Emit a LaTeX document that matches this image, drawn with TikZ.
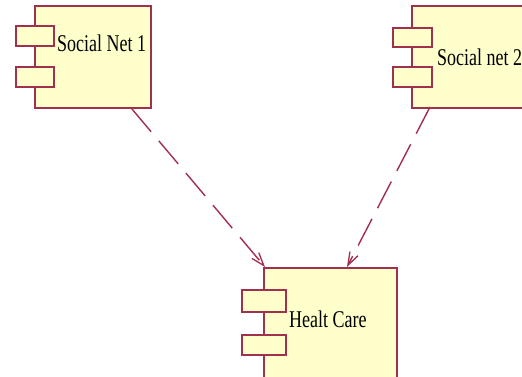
\documentclass[tikz,border=0pt]{standalone}
\usepackage{fontspec}
\usepackage{graphicx}
\setmainfont{Liberation Serif}
\usetikzlibrary{arrows.meta}
\definecolor{umlred}{RGB}{160,48,78}
\definecolor{umlfill}{RGB}{255,255,204}
\tikzset{
  compbody/.style={draw=umlred, fill=umlfill, line width=1.8pt, rectangle, inner sep=0pt, anchor=north west},
  comptab/.style={draw=umlred, fill=umlfill, line width=1.6pt, rectangle, inner sep=0pt, anchor=north west},
  complabel/.style={anchor=base west, inner sep=0pt, font=\fontsize{24}{24}\selectfont},
  dep/.style={draw=umlred, line width=1.4pt, dash pattern=on 30pt off 12pt, -{Straight Barb[length=13pt, width=9pt, line width=1.3pt]}}
}
\newcommand{\condensed}[1]{\scalebox{0.75}[1]{#1}}
\begin{document}
\begin{tikzpicture}[x=1pt, y=-1pt]
\useasboundingbox (0,0) rectangle (522,376);
\clip (0,0) rectangle (522,376);
\fill[white] (0,0) rectangle (522,376);
% Social Net 1
\node[compbody, minimum width=116pt, minimum height=102pt] (b1) at (34,5) {};
\node[comptab, minimum width=38pt, minimum height=20pt] (b1t1) at (15,25) {};
\node[comptab, minimum width=38pt, minimum height=20pt] (b1t2) at (15,66) {};
\node[complabel] (l1) at (57,51) {\condensed{Social Net 1}};
% Social net 2
\node[compbody, minimum width=130pt, minimum height=102pt] (b2) at (411,5) {};
\node[comptab, minimum width=39pt, minimum height=19pt] (b2t1) at (392,27) {};
\node[comptab, minimum width=39pt, minimum height=20pt] (b2t2) at (392,66) {};
\node[complabel] (l2) at (437,65) {\condensed{Social net 2}};
% Healt Care
\node[compbody, minimum width=133pt, minimum height=115pt] (b3) at (263,267) {};
\node[comptab, minimum width=44pt, minimum height=22pt] (b3t1) at (241,289) {};
\node[comptab, minimum width=44pt, minimum height=20pt] (b3t2) at (241,334) {};
\node[complabel] (l3) at (289,327) {\condensed{Healt Care}};
% connectors
\coordinate (s1) at ([xshift=-20pt]b1.south east);
\coordinate (t1) at ([xshift=2pt]b3.north west);
\coordinate (s2) at (430,107);
\coordinate (t2) at (347,267);
\draw[dep] (s1) -- (t1);
\draw[dep] (s2) -- (t2);
\end{tikzpicture}
\end{document}
